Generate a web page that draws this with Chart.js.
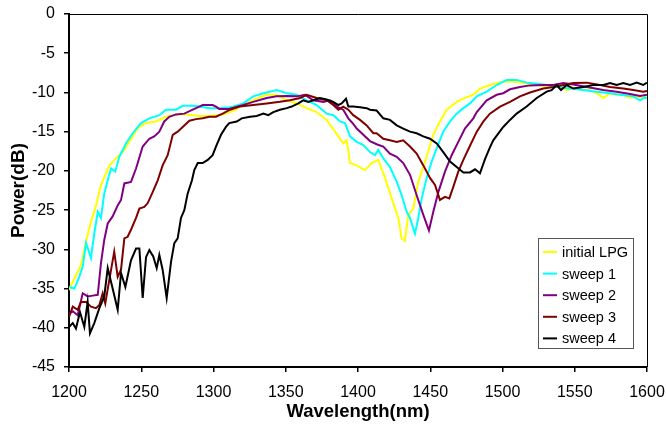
<!DOCTYPE html>
<html>
<head>
<meta charset="utf-8">
<script src="https://cdn.jsdelivr.net/npm/chart.js@4.4.1/dist/chart.umd.min.js"></script>
<style>
  html, body { margin: 0; padding: 0; background: #fff; }
  #wrap { width: 666px; height: 434px; position: relative; }
</style>
</head>
<body>
<div id="wrap"><canvas id="c" width="666" height="434"></canvas></div>
<script>
// Axis ticks
const xTicks = [1200, 1250, 1300, 1350, 1400, 1450, 1500, 1550, 1600];
const yTicks = [-45, -40, -35, -30, -25, -20, -15, -10, -5, 0];

// Series labels and colours
const seriesNames = ['initial LPG', 'sweep 1', 'sweep 2', 'sweep 3', 'sweep 4'];
const seriesColors = ['#FFFF00', '#00FFFF', '#800080', '#800000', '#000000'];

// [wavelength (nm), power (dB)]
const initialLPG = [[1200,-35.2],[1204.8,-33.3],[1208.3,-32],[1211.8,-29],[1215.2,-26.5],[1218.7,-24.4],[1222.1,-21.8],[1227.9,-19.3],[1232.5,-18.4],[1237.2,-17.6],[1241.7,-16.3],[1247.5,-14.6],[1253.3,-13.9],[1260.2,-13.7],[1267.1,-13.1],[1274,-12.8],[1281,-12.8],[1290.2,-13.0],[1297.1,-13.0],[1306.4,-12.8],[1315.6,-12.2],[1318.3,-11.8],[1327.3,-11.0],[1336.8,-10.3],[1343.7,-10.3],[1350.7,-11.0],[1357.6,-11.4],[1364.5,-12.0],[1371.4,-12.5],[1378.3,-13.5],[1384.1,-15.0],[1389.8,-16.5],[1392.2,-16.1],[1394.5,-19.0],[1399.1,-19.3],[1404.8,-19.9],[1409.5,-19.0],[1414,-18.6],[1418.7,-20.9],[1423.3,-23.5],[1427.9,-26.0],[1430.2,-28.6],[1432.5,-28.9],[1434.8,-25.6],[1438.3,-24.8],[1441.7,-21.4],[1447.5,-18.2],[1452.1,-15.4],[1456.7,-13.7],[1461.4,-12.2],[1468.3,-11.2],[1474,-10.7],[1479.8,-10.3],[1484.4,-9.5],[1491.3,-9.05],[1500.5,-8.6],[1507.5,-8.6],[1514.4,-8.8],[1523.7,-9.05],[1532.9,-9.3],[1537.5,-9.0],[1544.4,-9.7],[1549,-9.4],[1555.9,-9.7],[1560.5,-9.7],[1565.2,-10.1],[1569.8,-10.7],[1574.4,-10.1],[1579,-10.3],[1583.6,-10.3],[1588.3,-10.7],[1592.9,-10.5],[1597.4,-10.7],[1600,-10.6]];

const sweep1 = [[1200,-34.8],[1203.7,-35],[1207.1,-33.5],[1209.5,-32.2],[1211.8,-29.2],[1215.2,-31.1],[1217.5,-28],[1219.9,-25.2],[1222.1,-26.0],[1224.4,-22.9],[1226.8,-21.2],[1229.1,-19.7],[1232.0,-20.1],[1234.8,-18.2],[1239.4,-16.5],[1244.1,-15.2],[1249.8,-13.9],[1255.6,-13.3],[1262.5,-12.9],[1267.1,-12.2],[1274,-12.2],[1278.7,-11.7],[1285.6,-11.7],[1290.2,-11.8],[1297.1,-12.0],[1304,-12.0],[1310.9,-11.9],[1313.7,-11.8],[1320.6,-11.4],[1327.5,-10.5],[1334.5,-10.1],[1343.7,-9.7],[1350.7,-10.1],[1357.6,-10.3],[1364.5,-11.0],[1371.4,-11.6],[1378.3,-12.7],[1382.9,-12.9],[1385.3,-13.3],[1387.5,-13.7],[1391,-13.9],[1394.5,-15.6],[1399.1,-16.3],[1403.7,-16.7],[1408.3,-17.6],[1411.8,-18.0],[1414,-17.3],[1417.5,-18.4],[1422.1,-19.5],[1426.8,-21.4],[1430.2,-23.1],[1433.7,-25.2],[1436,-26.0],[1439.4,-28.0],[1441.7,-26.0],[1444.1,-23.5],[1447.5,-20.9],[1451,-18.8],[1454.5,-17.1],[1459,-15],[1463.7,-13.7],[1468.3,-12.7],[1472.9,-12.0],[1477.5,-11.4],[1482.2,-10.5],[1489.1,-9.9],[1496,-9.05],[1502.9,-8.4],[1509.8,-8.4],[1516.7,-8.75],[1523.7,-8.9],[1530.6,-9.05],[1537.5,-9.3],[1546.7,-9.5],[1555.9,-9.7],[1565.2,-9.9],[1574.4,-10.1],[1581.3,-10.3],[1590.5,-10.5],[1595.2,-11],[1598.6,-10.6],[1600,-10.8]];

const sweep2 = [[1200,-38.2],[1202.6,-37.9],[1206,-38.4],[1209.5,-35.6],[1212.9,-36.0],[1216.4,-35.9],[1219.9,-35.8],[1222.1,-31.8],[1224.4,-28.8],[1226.8,-26.7],[1230.2,-25.8],[1233.7,-24.4],[1236,-23.7],[1238.3,-21.6],[1242.9,-21.4],[1246.4,-19.7],[1251,-16.9],[1255.6,-15.9],[1259,-15.6],[1262.5,-15.0],[1265.9,-13.7],[1269.4,-13.1],[1274,-12.8],[1279.8,-12.7],[1285.6,-12.2],[1290.2,-11.8],[1292.5,-11.6],[1299.4,-11.6],[1301.7,-11.8],[1304,-12.1],[1310.9,-12.1],[1314.4,-11.9],[1320.6,-11.6],[1327.5,-11.2],[1336.8,-10.7],[1343.7,-10.5],[1350.7,-10.45],[1357.6,-10.5],[1363.3,-10.3],[1369.1,-11],[1376,-11.2],[1380.6,-11.0],[1385.3,-11.8],[1389.8,-12.2],[1393.3,-13.3],[1396.7,-14.0],[1399.1,-14.6],[1403.7,-15.4],[1408.3,-16.2],[1412.9,-16.6],[1417.5,-16.9],[1422.1,-17.8],[1426.8,-18.2],[1431.3,-19.0],[1436,-20.5],[1440.6,-23.1],[1445.2,-25.6],[1449.1,-27.6],[1452.1,-25.2],[1455.6,-22.7],[1460.2,-20.1],[1464.8,-18.0],[1469.4,-16.3],[1474,-14.6],[1479.8,-13.3],[1482.2,-12.5],[1489.1,-11.0],[1496,-10.3],[1500.5,-10.1],[1505.2,-9.6],[1512.1,-9.3],[1519,-9.1],[1528.2,-9.05],[1535.2,-9.05],[1542.1,-8.8],[1549,-9.0],[1558.3,-9.3],[1569.8,-9.7],[1579,-9.9],[1588.3,-10.2],[1595.2,-10.45],[1600,-10.3]];

const sweep3 = [[1200,-38.6],[1202.6,-37.3],[1206,-37.7],[1208.3,-36.7],[1211.8,-36.7],[1215.2,-37.3],[1218.7,-37.5],[1221,-37.1],[1223.3,-35.6],[1225.1,-36.9],[1227.9,-33.9],[1231.3,-30.3],[1233.7,-33.5],[1236,-32.6],[1238.3,-28.6],[1240.6,-28.4],[1242.9,-27.5],[1246.4,-26.0],[1248.7,-24.8],[1252.1,-24.6],[1254.5,-24.1],[1257.9,-22.7],[1261.4,-21.2],[1264.8,-19.3],[1268.3,-18.0],[1271.8,-15.4],[1275.2,-15.0],[1278.7,-14.4],[1283.3,-13.6],[1287.9,-13.4],[1292.5,-13.3],[1297.1,-13.1],[1301.7,-13.1],[1306.4,-12.7],[1311.4,-12.2],[1318.3,-11.8],[1327.5,-11.6],[1336.8,-11.4],[1346,-11.2],[1352.9,-11.0],[1359.9,-10.7],[1364.5,-10.3],[1371.4,-10.7],[1378.3,-11.0],[1382.9,-11.6],[1386.4,-12.2],[1389.8,-11.8],[1393.3,-12.2],[1396.7,-12.9],[1401.4,-13.5],[1406,-14.2],[1410.6,-15.2],[1412.9,-15.2],[1417.5,-15.9],[1422.1,-16.1],[1426.8,-16.3],[1431.3,-16.1],[1436,-16.9],[1440.6,-17.8],[1445.2,-19.3],[1449.8,-20.9],[1453.3,-21.8],[1456.7,-23.7],[1460.2,-23.3],[1463.2,-23.5],[1466,-22.0],[1469.4,-20.1],[1472.9,-18.6],[1477.5,-16.8],[1482.2,-15.0],[1486.8,-13.7],[1491.3,-12.7],[1498.3,-11.8],[1505.2,-11.2],[1512.1,-10.5],[1519,-10.0],[1528.2,-9.5],[1535.2,-9.3],[1542.1,-9.05],[1549,-8.8],[1558.3,-8.75],[1567.5,-9.05],[1574.4,-9.3],[1583.6,-9.5],[1590.5,-9.7],[1597.4,-9.9],[1600,-9.8]];

const sweep4 = [[1200,-39.9],[1202.6,-39.4],[1204.8,-40.1],[1207.6,-38],[1210.6,-39.9],[1212.9,-36.7],[1214.5,-40.7],[1217.5,-39.4],[1221,-37.5],[1224.4,-36.0],[1226.8,-32.4],[1230.2,-35.0],[1233.7,-37.7],[1236,-33.0],[1239,-34.8],[1242.9,-31.4],[1246.4,-29.9],[1248.7,-29.9],[1251,-36.2],[1253.3,-31.0],[1255.6,-30.1],[1258.3,-30.9],[1260.7,-32.4],[1262.5,-30.7],[1264.8,-32.6],[1267.6,-36.2],[1270.6,-31.6],[1272.9,-29.2],[1275.2,-28.6],[1277.5,-26],[1279.8,-25],[1282.1,-22.9],[1285.1,-21.2],[1286.7,-19.9],[1289.1,-19.0],[1292.5,-19.0],[1296,-18.6],[1299.4,-18.0],[1301.7,-16.9],[1305.2,-15.4],[1308.6,-14.4],[1310.9,-13.9],[1316.1,-13.7],[1319.5,-13.3],[1325.3,-13.1],[1329.9,-13.0],[1334.5,-12.7],[1337.9,-12.9],[1341.4,-12.5],[1346,-12.2],[1350.7,-12.0],[1354.1,-11.8],[1358.7,-11.4],[1362.1,-11.0],[1365.6,-11.2],[1369.1,-11.0],[1373.7,-10.7],[1378.3,-10.9],[1382.9,-11.2],[1386.4,-11.6],[1388.7,-11.4],[1391.7,-10.8],[1393.3,-11.8],[1396.7,-11.8],[1401.4,-11.9],[1406,-12.0],[1408.3,-12.2],[1412.9,-12.3],[1417.5,-13.3],[1422.1,-13.5],[1426.8,-14.2],[1431.3,-14.6],[1436,-15.0],[1440.6,-15.2],[1445.2,-15.6],[1449.8,-15.9],[1454.5,-16.5],[1459,-17.6],[1463.7,-18.8],[1468.3,-19.5],[1472.9,-20.2],[1477.5,-20.2],[1481,-19.8],[1484.4,-20.3],[1487.9,-18.5],[1491.3,-17.0],[1493.6,-16.1],[1500.5,-14.4],[1505.2,-13.5],[1509.8,-12.7],[1516.7,-11.8],[1523.7,-10.7],[1530.6,-9.9],[1534,-9.7],[1537.5,-9.05],[1540.5,-9.7],[1544.4,-9.05],[1549,-9.5],[1555.9,-9.3],[1562.8,-9.05],[1569.8,-9.05],[1574.4,-8.8],[1579,-9.05],[1583.6,-8.8],[1588.3,-9.05],[1592.9,-8.75],[1597.4,-9.05],[1600,-8.75]];

const allSeries = [initialLPG, sweep1, sweep2, sweep3, sweep4];

const FONT = "'Liberation Sans', Arial, sans-serif";

const datasets = allSeries.map((s, i) => ({
  label: seriesNames[i],
  data: s.map(p => ({ x: p[0], y: p[1] })),
  borderColor: seriesColors[i],
  backgroundColor: seriesColors[i],
  borderWidth: 2,
  pointRadius: 0,
  tension: 0,
  fill: false,
  order: 5 - i
}));

// Frame (top/right) and in-plot legend box
const framePlugin = {
  id: 'frame',
  afterDraw(chart) {
    const { ctx, chartArea: a } = chart;
    ctx.save();
    ctx.strokeStyle = '#000';
    ctx.lineWidth = 1;
    ctx.beginPath();
    ctx.moveTo(a.left, a.top + 0.5);
    ctx.lineTo(a.right + 0.5, a.top + 0.5);
    ctx.lineTo(a.right + 0.5, a.bottom);
    ctx.stroke();

    // legend
    const bx = 538, by = 238, bw = 95, bh = 110;
    ctx.fillStyle = '#fff';
    ctx.fillRect(bx, by, bw, bh);
    ctx.strokeStyle = '#555';
    ctx.lineWidth = 1;
    ctx.strokeRect(bx + 0.5, by + 0.5, bw, bh);
    ctx.font = '14.5px ' + FONT;
    ctx.textBaseline = 'middle';
    ctx.textAlign = 'left';
    seriesNames.forEach((n, i) => {
      const y = by + 14 + i * 21.6;
      ctx.strokeStyle = seriesColors[i];
      ctx.lineWidth = 2;
      ctx.beginPath();
      ctx.moveTo(bx + 5, y);
      ctx.lineTo(bx + 19, y);
      ctx.stroke();
      ctx.fillStyle = '#000';
      ctx.fillText(n, bx + 24, y + 1);
    });
    ctx.restore();
  }
};

new Chart(document.getElementById('c'), {
  type: 'line',
  data: { datasets },
  options: {
    responsive: false,
    animation: false,
    devicePixelRatio: 1,
    layout: { padding: { top: 14, right: 19, left: 0, bottom: 0 } },
    plugins: { legend: { display: false }, tooltip: { enabled: false } },
    scales: {
      x: {
        type: 'linear',
        min: 1200, max: 1600,
        afterFit: s => { s.height = 67; s.paddingRight = 0; s.paddingLeft = 0; },
        afterBuildTicks: s => { s.ticks = xTicks.map(v => ({ value: v })); },
        ticks: { color: '#000', font: { family: FONT, size: 16 }, padding: 11, maxRotation: 0, callback: v => String(v) },
        grid: { drawOnChartArea: false, drawTicks: true, tickLength: 5, color: '#000', lineWidth: 1.5 },
        border: { display: true, color: '#000', width: 2 },
        title: { display: true, text: 'Wavelength(nm)', color: '#000', font: { family: FONT, size: 18.5, weight: 'bold' }, padding: { top: 0, bottom: 11 } }
      },
      y: {
        type: 'linear',
        min: -45, max: 0,
        afterFit: s => { s.width = 69; s.paddingTop = 0; s.paddingBottom = 0; },
        afterBuildTicks: s => { s.ticks = yTicks.map(v => ({ value: v })); },
        ticks: { color: '#000', font: { family: FONT, size: 16 }, padding: 9, callback: v => String(v) },
        grid: { drawOnChartArea: false, drawTicks: true, tickLength: 5, color: '#000', lineWidth: 1.5 },
        border: { display: true, color: '#000', width: 2 },
        title: { display: true, text: 'Power(dB)', color: '#000', font: { family: FONT, size: 19, weight: 'bold' }, padding: { top: 7, bottom: 0 } }
      }
    }
  },
  plugins: [framePlugin]
});
</script>
</body>
</html>
